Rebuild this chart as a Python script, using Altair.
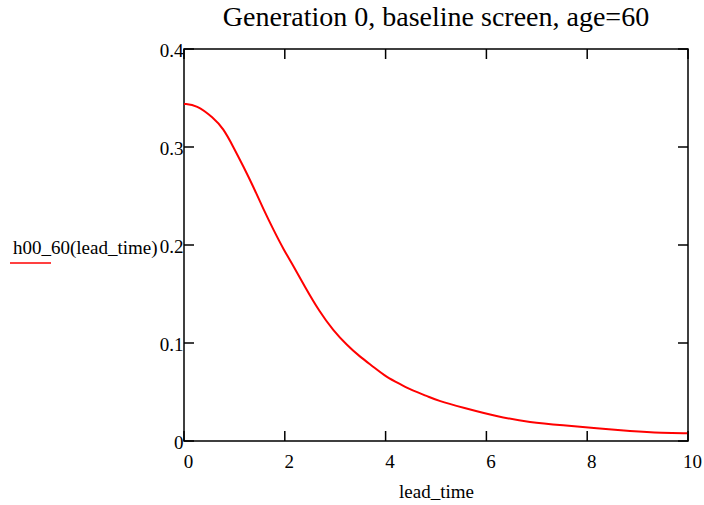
import altair as alt
import pandas as pd

# data
lead_time = [0, 0.25, 0.58, 0.78, 0.98, 1.18, 1.38, 1.58, 1.78, 1.98, 2.18, 2.38,
             2.70, 2.96, 3.23, 3.49, 3.75, 4.02, 4.29, 4.55, 4.82, 5.04, 5.54, 6.2,
             6.87, 7.52, 8.19, 8.85, 9.5, 10]
h00_60 = [0.344, 0.343, 0.330, 0.319, 0.300, 0.280, 0.259, 0.236, 0.215, 0.195,
          0.178, 0.159, 0.131, 0.113, 0.098, 0.086, 0.076, 0.065, 0.058, 0.051,
          0.046, 0.041, 0.034, 0.025, 0.019, 0.016, 0.013, 0.010, 0.008, 0.008]
x_ticks = [0, 2, 4, 6, 8, 10]
y_ticks = [0, 0.1, 0.2, 0.3, 0.4]

FONT = "Liberation Serif"
W, H = 504, 392

df = pd.DataFrame({"lead_time": lead_time, "h": h00_60})
xt = pd.DataFrame({"v": x_ticks})
yt = pd.DataFrame({"v": y_ticks})
one = pd.DataFrame({"a": [0]})

xscale = alt.Scale(domain=[0, 10], nice=False, zero=False)
yscale = alt.Scale(domain=[0, 0.4], nice=False, zero=False)

xaxis = alt.Axis(values=x_ticks, title="lead_time", domain=False, ticks=False, tickSize=0,
                 grid=False, labelFont=FONT, labelFontSize=19, labelColor="black",
                 labelAlign="center", labelOffset=4, labelFlush=False, labelPadding=11,
                 labelOverlap=False,
                 titleFont=FONT, titleFontSize=19, titleFontWeight="normal",
                 titleColor="black", titleBaseline="alphabetic", titleY=56)
yaxis = alt.Axis(values=y_ticks, title="h00_60(lead_time)", domain=False, ticks=False,
                 tickSize=0, grid=False, labelFont=FONT, labelFontSize=19,
                 labelColor="black", labelPadding=1, labelOffset=1, labelFlush=False,
                 labelOverlap=False, format="~g",
                 titleFont=FONT, titleFontSize=19, titleFontWeight="normal",
                 titleColor="black", titleAngle=0, titleAlign="right",
                 titleBaseline="alphabetic", titleX=-27, titleY=204)

line = alt.Chart(df).mark_line(color="#ff0000", strokeWidth=2, interpolate="basis").encode(
    x=alt.X("lead_time:Q", scale=xscale, axis=xaxis),
    y=alt.Y("h:Q", scale=yscale, axis=yaxis),
)

tick_style = dict(color="black", strokeWidth=1.5)
xb = alt.Chart(xt).mark_rule(**tick_style).encode(
    x=alt.X("v:Q", scale=xscale, axis=xaxis), y=alt.value(H), y2=alt.value(H - 10))
xtp = alt.Chart(xt).mark_rule(**tick_style).encode(
    x=alt.X("v:Q", scale=xscale, axis=xaxis), y=alt.value(0), y2=alt.value(10))
yl = alt.Chart(yt).mark_rule(**tick_style).encode(
    y=alt.Y("v:Q", scale=yscale, axis=yaxis), x=alt.value(0), x2=alt.value(10))
yr = alt.Chart(yt).mark_rule(**tick_style).encode(
    y=alt.Y("v:Q", scale=yscale, axis=yaxis), x=alt.value(W), x2=alt.value(W - 10))

legend_line = alt.Chart(one).mark_rule(color="#ff0000", strokeWidth=1.5).encode(
    x=alt.value(-174), x2=alt.value(-133), y=alt.value(214))

chart = alt.layer(line, xb, xtp, yl, yr, legend_line).properties(
    width=W, height=H,
    title=alt.Title("Generation 0, baseline screen, age=60", font=FONT, fontSize=28,
                    fontWeight="normal", color="black", anchor="middle", offset=9),
    autosize=alt.AutoSizeParams(type="none"),
    padding={"left": 184, "top": 49, "right": 16, "bottom": 64},
).configure(
    background="white",
    view=alt.ViewConfig(stroke="black", strokeWidth=1.5),
)

chart.save("out.html", embed_options={"renderer": "svg", "actions": False})
